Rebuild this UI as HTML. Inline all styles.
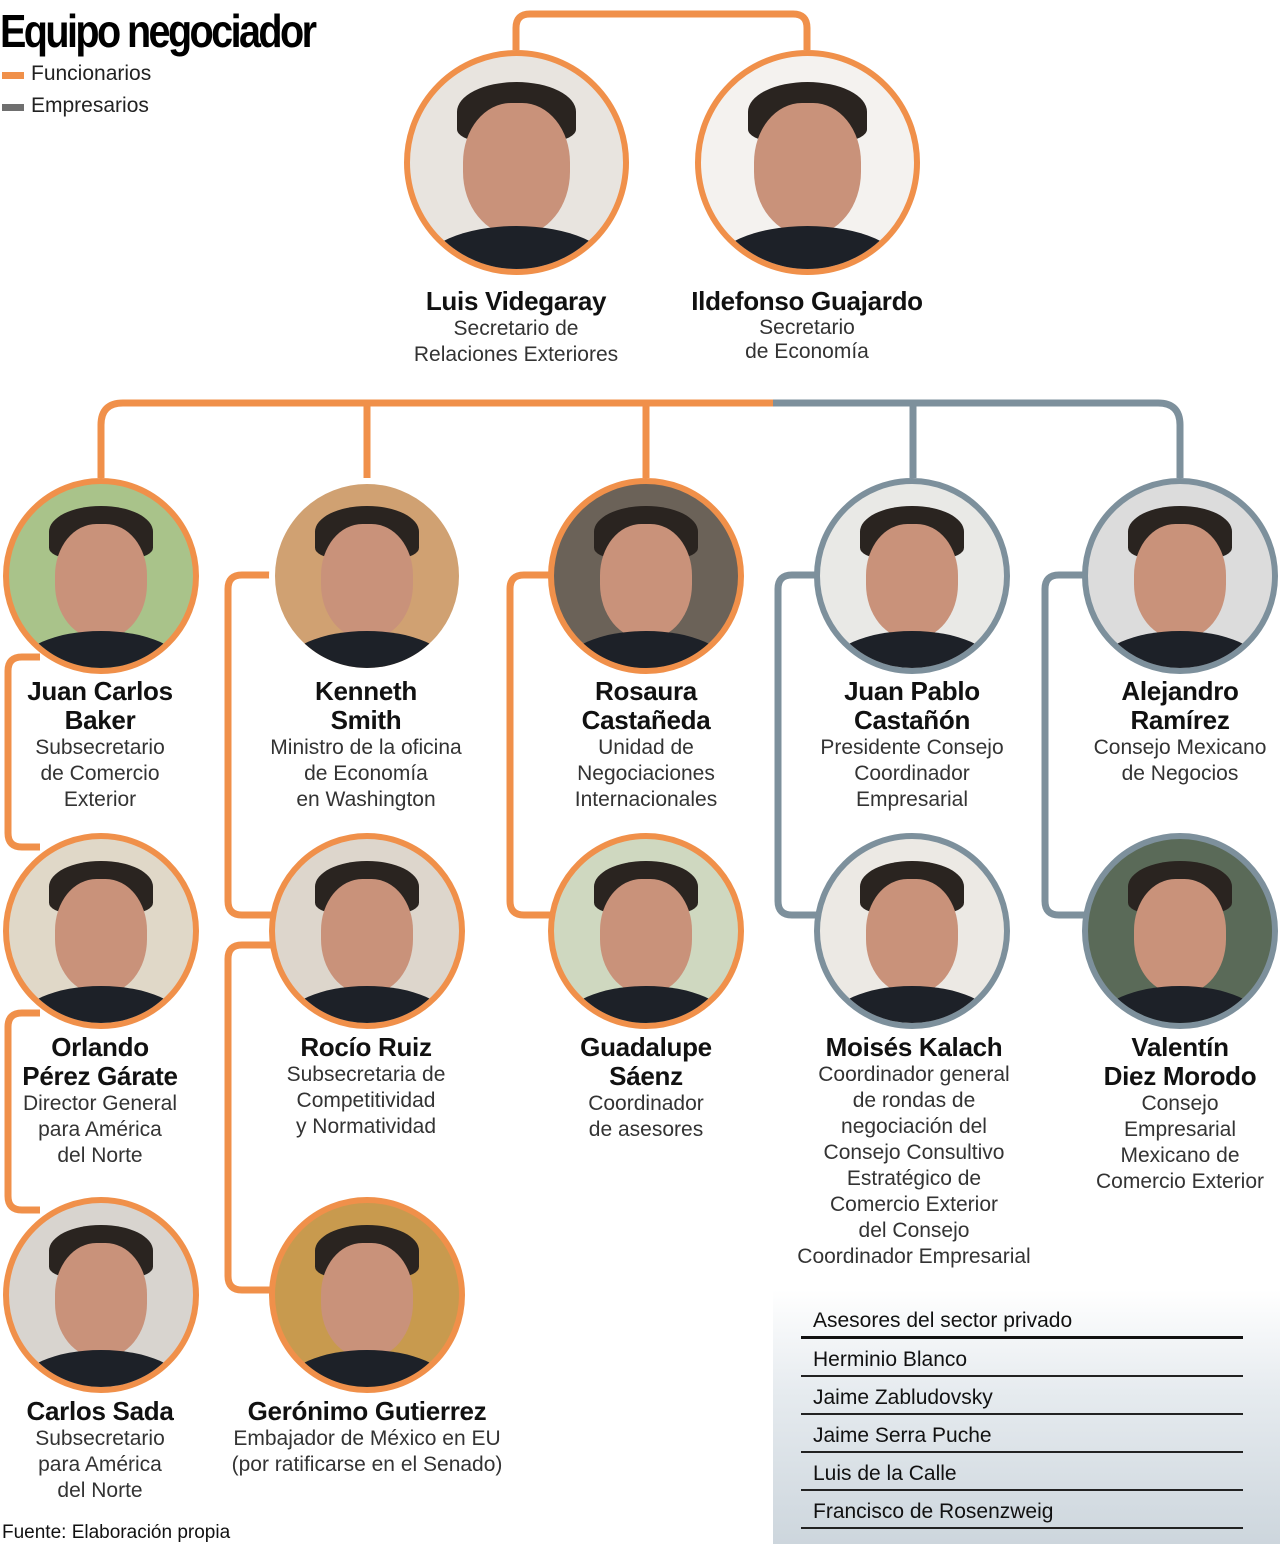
<!DOCTYPE html>
<html><head><meta charset="utf-8"><style>
body{margin:0;width:1280px;height:1544px;background:#fff;position:relative;overflow:hidden;font-family:"Liberation Sans",sans-serif;color:#222}
.c{position:absolute;border-radius:50%;box-sizing:border-box;border:6px solid #f0904a;overflow:hidden}
.g{border-color:#7d909c}
.c i{position:absolute;left:25%;top:22%;width:50%;height:62%;border-radius:45% 45% 48% 48%;background:#c9927a}
.c b{position:absolute;left:22%;top:12%;width:56%;height:28%;border-radius:50% 50% 20% 20%;background:#2a2420}
.c s{position:absolute;left:5%;top:80%;width:90%;height:40%;border-radius:50% 50% 0 0;background:#1d2128}
.t{position:absolute;text-align:center;transform:translateX(-50%);white-space:nowrap}
.n{font-weight:bold;font-size:26px;line-height:29px;letter-spacing:-0.3px;color:#111}
.s{font-size:21px;line-height:26px;color:#333}
svg{position:absolute;left:0;top:0}
</style></head><body>
<svg width="1280" height="1544" fill="none" stroke-width="7">
<path d="M516 50 V28 Q516 14 530 14 H793 Q807 14 807 28 V50" stroke="#f0904a"/>
<path d="M101 478 V425 Q101 403 123 403 H773" stroke="#f0904a"/>
<path d="M773 403 H1158 Q1180 403 1180 425 V478" stroke="#7d909c"/>
<path d="M367 403 V478 M646 403 V478" stroke="#f0904a"/>
<path d="M913 403 V478" stroke="#7d909c"/>
<path d="M40 657 H22 Q8 657 8 671 V833 Q8 847 22 847 H40" stroke="#f0904a"/>
<path d="M40 1013 H22 Q8 1013 8 1027 V1196 Q8 1210 22 1210 H40" stroke="#f0904a"/>
<path d="M272 575 H242 Q228 575 228 589 V901 Q228 915 242 915 H272" stroke="#f0904a"/>
<path d="M272 945 H242 Q228 945 228 959 V1276 Q228 1290 242 1290 H272" stroke="#f0904a"/>
<path d="M552 575 H524 Q510 575 510 589 V901 Q510 915 524 915 H552" stroke="#f0904a"/>
<path d="M818 575 H792 Q778 575 778 589 V901 Q778 915 792 915 H818" stroke="#7d909c"/>
<path d="M1086 575 H1059 Q1045 575 1045 589 V901 Q1045 915 1059 915 H1086" stroke="#7d909c"/>
</svg>
<div style="position:absolute;left:0;top:4px;font-weight:bold;font-size:46px;letter-spacing:-3px;transform:scaleX(0.86);transform-origin:0 0;color:#000">Equipo negociador</div>
<div style="position:absolute;left:2px;top:72px;width:22px;height:7px;background:#f0904a"></div>
<div style="position:absolute;left:31px;top:62px;font-size:21px">Funcionarios</div>
<div style="position:absolute;left:2px;top:104px;width:22px;height:7px;background:#6f6f6f"></div>
<div style="position:absolute;left:31px;top:94px;font-size:21px">Empresarios</div>

<div class="c" style="left:404px;top:50px;width:225px;height:225px;background:#e8e4df"><b></b><i></i><s></s></div>
<div class="c" style="left:695px;top:50px;width:225px;height:225px;background:#f4f2ef"><b></b><i></i><s></s></div>
<div class="t" style="left:516px;top:287px"><div class="n">Luis Videgaray</div><div class="s">Secretario de<br>Relaciones Exteriores</div></div>
<div class="t" style="left:807px;top:287px"><div class="n">Ildefonso Guajardo</div><div class="s" style="line-height:24px">Secretario<br>de Economía</div></div>

<div class="c" style="left:3px;top:478px;width:196px;height:196px;background:#a9c38a"><b></b><i></i><s></s></div>
<div class="c" style="left:269px;top:478px;width:196px;height:196px;background:#d0a172;border-color:#fff"><b></b><i></i><s></s></div>
<div class="c" style="left:548px;top:478px;width:196px;height:196px;background:#6b6258"><b></b><i></i><s></s></div>
<div class="c g" style="left:814px;top:478px;width:196px;height:196px;background:#e9e9e6"><b></b><i></i><s></s></div>
<div class="c g" style="left:1082px;top:478px;width:196px;height:196px;background:#dcdcdc"><b></b><i></i><s></s></div>

<div class="t" style="left:100px;top:677px"><div class="n">Juan Carlos<br>Baker</div><div class="s">Subsecretario<br>de Comercio<br>Exterior</div></div>
<div class="t" style="left:366px;top:677px"><div class="n">Kenneth<br>Smith</div><div class="s">Ministro de la oficina<br>de Economía<br>en Washington</div></div>
<div class="t" style="left:646px;top:677px"><div class="n">Rosaura<br>Castañeda</div><div class="s">Unidad de<br>Negociaciones<br>Internacionales</div></div>
<div class="t" style="left:912px;top:677px"><div class="n">Juan Pablo<br>Castañón</div><div class="s">Presidente Consejo<br>Coordinador<br>Empresarial</div></div>
<div class="t" style="left:1180px;top:677px"><div class="n">Alejandro<br>Ramírez</div><div class="s">Consejo Mexicano<br>de Negocios</div></div>

<div class="c" style="left:3px;top:833px;width:196px;height:196px;background:#e0d8c8"><b></b><i></i><s></s></div>
<div class="c" style="left:269px;top:833px;width:196px;height:196px;background:#ddd6cc"><b></b><i></i><s></s></div>
<div class="c" style="left:548px;top:833px;width:196px;height:196px;background:#cfd8c0"><b></b><i></i><s></s></div>
<div class="c g" style="left:814px;top:833px;width:196px;height:196px;background:#ece9e4"><b></b><i></i><s></s></div>
<div class="c g" style="left:1082px;top:833px;width:196px;height:196px;background:#5a6a58"><b></b><i></i><s></s></div>

<div class="t" style="left:100px;top:1033px"><div class="n">Orlando<br>Pérez Gárate</div><div class="s">Director General<br>para América<br>del Norte</div></div>
<div class="t" style="left:366px;top:1033px"><div class="n">Rocío Ruiz</div><div class="s">Subsecretaria de<br>Competitividad<br>y Normatividad</div></div>
<div class="t" style="left:646px;top:1033px"><div class="n">Guadalupe<br>Sáenz</div><div class="s">Coordinador<br>de asesores</div></div>
<div class="t" style="left:914px;top:1033px"><div class="n">Moisés Kalach</div><div class="s">Coordinador general<br>de rondas de<br>negociación del<br>Consejo Consultivo<br>Estratégico de<br>Comercio Exterior<br>del Consejo<br>Coordinador Empresarial</div></div>
<div class="t" style="left:1180px;top:1033px"><div class="n">Valentín<br>Diez Morodo</div><div class="s">Consejo<br>Empresarial<br>Mexicano de<br>Comercio Exterior</div></div>

<div class="c" style="left:3px;top:1197px;width:196px;height:196px;background:#d8d4cf"><b></b><i></i><s></s></div>
<div class="c" style="left:269px;top:1197px;width:196px;height:196px;background:#c89a4e"><b></b><i></i><s></s></div>
<div class="t" style="left:100px;top:1397px"><div class="n">Carlos Sada</div><div class="s">Subsecretario<br>para América<br>del Norte</div></div>
<div class="t" style="left:367px;top:1397px"><div class="n">Gerónimo Gutierrez</div><div class="s">Embajador de México en EU<br>(por ratificarse en el Senado)</div></div>

<div style="position:absolute;left:773px;top:1290px;width:507px;height:254px;background:linear-gradient(#fff,#e6ebef 40%,#cdd6dd)"></div>
<div style="position:absolute;left:801px;top:1306px;width:442px;font-size:21px;color:#111">
<div style="height:30px;line-height:30px;padding-left:12px;border-bottom:3px solid #111">Asesores del sector privado</div>
<div style="height:36px;line-height:42px;padding-left:12px;border-bottom:2px solid #222">Herminio Blanco</div>
<div style="height:36px;line-height:42px;padding-left:12px;border-bottom:2px solid #222">Jaime Zabludovsky</div>
<div style="height:36px;line-height:42px;padding-left:12px;border-bottom:2px solid #222">Jaime Serra Puche</div>
<div style="height:36px;line-height:42px;padding-left:12px;border-bottom:2px solid #222">Luis de la Calle</div>
<div style="height:36px;line-height:42px;padding-left:12px;border-bottom:2px solid #222">Francisco de Rosenzweig</div>
</div>
<div style="position:absolute;left:2px;top:1522px;font-size:19px;color:#111">Fuente: Elaboración propia</div>
</body></html>
